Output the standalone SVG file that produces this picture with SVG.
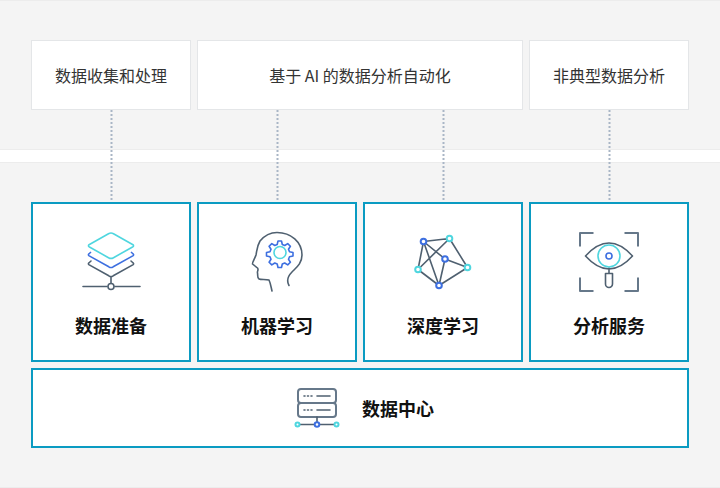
<svg xmlns="http://www.w3.org/2000/svg" width="720" height="488" viewBox="0 0 720 488">
<style>
text{font-family:"Noto Sans CJK SC","Noto Sans",sans-serif;text-anchor:middle}
.t{font-size:16px;fill:#333}
.b{font-size:18px;font-weight:700;fill:#111}
.bg{fill:#f4f4f4;stroke:#ececec;stroke-width:1}
.top{fill:#fff;stroke:#e4e6e8;stroke-width:1}
.box{fill:#fff;stroke:#0a9bc2;stroke-width:2}
.dot{stroke:#a9b6c6;stroke-width:2;stroke-dasharray:2 2;fill:none}
.g{fill:none;stroke:#4f6070;stroke-width:1.6;stroke-linejoin:round;stroke-linecap:round}
.s{fill:none;stroke:#66788a;stroke-width:2;stroke-linejoin:round}
.c{fill:none;stroke:#4fd6df;stroke-width:1.6;stroke-linejoin:round}
.u{fill:none;stroke:#3d6fe0;stroke-width:1.6;stroke-linejoin:round}
.cf{fill:#fff;stroke:#4fd6df;stroke-width:2}
.uf{fill:#fff;stroke:#3d6fe0;stroke-width:2}
.gf{fill:#fff;stroke:#4f6070;stroke-width:1.6}
</style>
<rect class="bg" x="-1" y="0.5" width="722" height="149"/>
<rect class="bg" x="-1" y="162.500" width="722" height="325"/>
<g id="connectors">
<path class="dot" d="M111.500 110V201"/>
<path class="dot" d="M277.500 110V201"/>
<path class="dot" d="M443.500 110V201"/>
<path class="dot" d="M609.500 110V201"/>
</g>
<g id="n1"><rect class="top" x="31.500" y="40.500" width="159" height="69"/><text class="t" x="111" y="82">数据收集和处理</text></g>
<g id="n2"><rect class="top" x="197.500" y="40.500" width="325" height="69"/><text class="t" x="360" y="82">基于 AI 的数据分析自动化</text></g>
<g id="n3"><rect class="top" x="529.500" y="40.500" width="159" height="69"/><text class="t" x="609" y="82">非典型数据分析</text></g>
<g id="n4"><rect class="box" x="32" y="203" width="158" height="158"/>
<path class="g" d="M91 261l-2.200 2a1 1 0 0 0 0 1.600l20 11.200a4 4 0 0 0 4.400 0l20-11.200a1 1 0 0 0 0-1.600l-2.200-2M111 277V283M83 286.500H107M115 286.500H140"/>
<path class="u" d="M91 252l-2.200 2a1 1 0 0 0 0 1.600l20 11.200a4 4 0 0 0 4.400 0l20-11.200a1 1 0 0 0 0-1.600l-2.200-2"/>
<path class="c" d="M108.500 233.700a5 5 0 0 1 5 0l19.500 11a1.200 1.200 0 0 1 0 2l-19.500 11a5 5 0 0 1-5 0l-19.500-11a1.200 1.200 0 0 1 0-2z"/>
<circle class="gf" cx="111" cy="286.500" r="3"/>
<text class="b" x="111" y="333">数据准备</text></g>
<g id="n5"><rect class="box" x="198" y="203" width="158" height="158"/>
<path class="g" d="M272 291C271 287 270.500 283 269 280C266 279 261 280 259 279C257 278 258 275 257.500 273C257 271 259 270 257.500 268L252.500 264C252 263 255 258 256 255C257 250 257 246 260 241C265 235 270 232.500 277 232.500C291 232.500 302 242 302 255C302 263 297 267 292 272C288 276 286 280 289 285.500"/>
<path class="u" transform="translate(.5 -.5)" d="M277.500 241.500h3.500l.8 3.500 2.400 1 3-1.900 2.700 2.700-1.900 3 1 2.400 3.500.8v3.500l-3.500.8-1 2.400 1.900 3-2.700 2.700-3-1.900-2.400 1-.8 3.500h-3.500l-.8-3.500-2.400-1-3 1.900-2.700-2.700 1.900-3-1-2.400-3.500-.8v-3.500l3.500-.8 1-2.400-1.900-3 2.700-2.700 3 1.900 2.400-1z"/>
<circle class="c" cx="280" cy="252.500" r="6"/>
<text class="b" x="277" y="333">机器学习</text></g>
<g id="n6"><rect class="box" x="364" y="203" width="158" height="158"/>
<path class="g" d="M423.500 241.500L449.500 238.500L467.500 267.500L439 285.500L418 269.500ZM423.500 241.500L445 259L467.500 267.500M423.500 241.500L439 285.500M449.500 238.500L418 269.500M445 259L439 285.500"/>
<circle class="uf" cx="423.500" cy="241.500" r="2.800"/><circle class="cf" cx="449.500" cy="238.500" r="2.800"/><circle class="uf" cx="445" cy="259" r="2.800"/><circle class="cf" cx="467.500" cy="267.500" r="2.800"/><circle class="cf" cx="418" cy="269.500" r="2.800"/><circle class="uf" cx="439" cy="285.500" r="2.800"/>
<text class="b" x="443" y="333">深度学习</text></g>
<g id="n7"><rect class="box" x="530" y="203" width="158" height="158"/>
<path class="s" d="M593.500 233H580V246.500M624.500 233H638V246.500M580 277.500V291H593.500M638 277.500V291H624.500"/>
<path class="g" d="M585.500 256Q609 230 632.500 256Q609 282 585.500 256ZM609 268V273"/>
<path class="g" d="M605.500 273.500H612.500V284a3.500 3.500 0 0 1-7 0Z"/>
<circle class="c" cx="609" cy="256" r="11"/><circle class="u" cx="609" cy="256" r="3"/>
<text class="b" x="609" y="333">分析服务</text></g>
<g id="n8"><rect class="box" x="32" y="369" width="656" height="78"/>
<rect class="s" x="298" y="389" width="38" height="14" rx="3"/><rect class="s" x="298" y="403" width="38" height="14" rx="3"/>
<path class="g" stroke-width="2" d="M304 396h1M307.500 396h1M311 396h1M304 410h1M307.500 410h1M311 410h1M317 396h13M317 410h13M317 417V423M299 424.500H334"/>
<circle class="cf" cx="297.500" cy="424.500" r="2"/><circle class="uf" cx="317" cy="424.500" r="2.300"/><circle class="cf" cx="336.500" cy="424.500" r="2"/>
<text class="b" x="398" y="415.500">数据中心</text></g>
</svg>
